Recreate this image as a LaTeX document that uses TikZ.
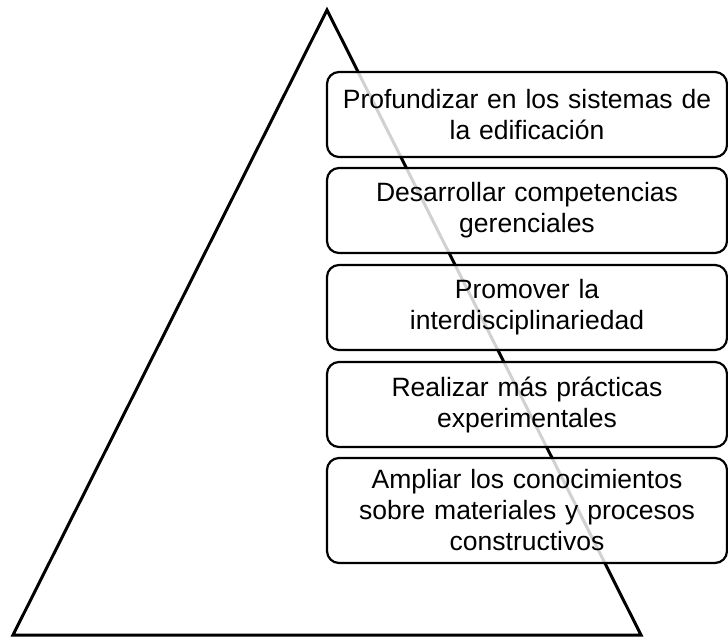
\documentclass[tikz,border=0pt]{standalone}
\usepackage{fontspec}
\setmainfont{Liberation Sans}
\usepackage{tikz}
\usetikzlibrary{positioning}

\begin{document}
\begin{tikzpicture}[
    x=1pt, y=-1pt,
    font=\fontsize{26.5}{31}\selectfont,
    box/.style={draw, line width=2.2pt, rounded corners=12pt, fill=white,
                fill opacity=0.82, text opacity=1, align=center,
                minimum width=400pt, text width=370pt, minimum height=85pt,
                inner sep=0pt},
    tri/.style={draw, line width=3pt, line join=miter}]
    \useasboundingbox (0,0) rectangle (728,637);
    \draw[tri] (13,635) -- (327,10) -- (641,635) -- cycle;
    \node[box] (sis) at (527,114.5) {Profundizar en los sistemas de\\la edificación};
    \node[box] (ger) at (527,210.5) {Desarrollar competencias\\gerenciales};
    \node[box] (int) at (527,307.5) {Promover la\\interdisciplinariedad};
    \node[box] (exp) at (527,404.5) {Realizar más prácticas\\experimentales};
    \node[box, minimum height=105pt] (mat) at (527,510.5)
         {Ampliar los conocimientos\\sobre materiales y procesos\\constructivos};
  \end{tikzpicture}
\end{document}
